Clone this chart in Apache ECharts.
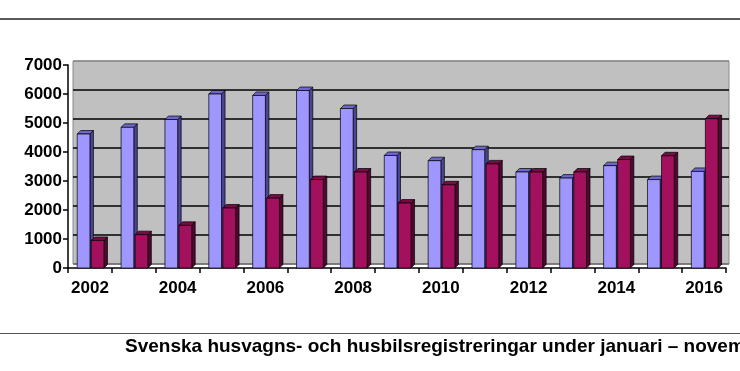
<!DOCTYPE html>
<html>
<head>
<meta charset="utf-8">
<script src="https://cdn.jsdelivr.net/npm/echarts@6/dist/echarts.min.js"></script>
<style>
html,body{margin:0;padding:0;background:#fff;}
#chart{width:740px;height:371px;}
</style>
</head>
<body>
<div id="chart"></div>
<script>
const years = ['2002','2003','2004','2005','2006','2007','2008','2009','2010','2011','2012','2013','2014','2015','2016'];
const husvagnar = [4620, 4850, 5120, 6000, 5950, 6120, 5500, 3880, 3700, 4080, 3310, 3100, 3530, 3050, 3330];
const husbilar  = [950, 1150, 1470, 2070, 2410, 3050, 3310, 2240, 2870, 3590, 3310, 3310, 3740, 3870, 5150];
const yTicks = [0, 1000, 2000, 3000, 4000, 5000, 6000, 7000];
const caption = 'Svenska husvagns- och husbilsregistreringar under januari \u2013 november';

const FONT = '"Liberation Sans", Arial, sans-serif';
const D = 3.5;

function make3D(front, side, top, shift) {
  return function (params, api) {
    const i = api.value(0), v = api.value(1);
    const base = api.coord([i, 0]);
    const tp = api.coord([i, v]);
    const band = api.size([1, 0])[0];
    const bw = band * 0.29;
    const x0 = base[0] + shift * band;
    const y0 = tp[1], y1 = base[1];
    const st = {stroke: '#000', lineWidth: 0.7};
    return {
      type: 'group',
      children: [
        {type: 'polygon', shape: {points: [[x0 + bw, y0], [x0 + bw + D, y0 - D], [x0 + bw + D, y1 - D], [x0 + bw, y1]]},
          style: Object.assign({fill: side}, st)},
        {type: 'polygon', shape: {points: [[x0, y0], [x0 + D, y0 - D], [x0 + bw + D, y0 - D], [x0 + bw, y0]]},
          style: Object.assign({fill: top}, st)},
        {type: 'rect', shape: {x: x0, y: y0, width: bw, height: y1 - y0},
          style: Object.assign({fill: front}, st)}
      ]
    };
  };
}

const chart = echarts.init(document.getElementById('chart'), null, {renderer: 'canvas'});
chart.setOption({
  animation: false,
  backgroundColor: '#fff',
  grid: [
    {left: 73, right: 11, top: 61, bottom: 107, show: true, backgroundColor: '#C0C0C0', borderColor: '#8a8a8a', borderWidth: 1, z: 0},
    {left: 68, right: 14, top: 65, bottom: 103}
  ],
  xAxis: [
    {type: 'category', gridIndex: 0, data: years, show: false},
    {type: 'category', gridIndex: 1, data: years,
      axisLine: {show: true, lineStyle: {color: '#000', width: 1.5}},
      axisTick: {show: true, interval: 0, length: 5, lineStyle: {color: '#000', width: 1.5}},
      axisLabel: {interval: 1, color: '#000', fontFamily: FONT, fontWeight: 'bold', fontSize: 17, margin: 12},
      splitLine: {show: false}}
  ],
  yAxis: [
    {type: 'value', gridIndex: 0, min: yTicks[0], max: yTicks[yTicks.length - 1], interval: 1000,
      axisLine: {show: false}, axisTick: {show: false}, axisLabel: {show: false},
      splitLine: {show: true, lineStyle: {color: ['#6a6a6a', '#000', '#000', '#000', '#000', '#000', '#000', '#8a8a8a'], width: 1.5}}},
    {type: 'value', gridIndex: 1, min: yTicks[0], max: yTicks[yTicks.length - 1], interval: 1000,
      axisLine: {show: true, lineStyle: {color: '#000', width: 1.5}},
      axisTick: {show: true, length: 5, lineStyle: {color: '#000', width: 1.5}},
      axisLabel: {color: '#000', fontFamily: FONT, fontWeight: 'bold', fontSize: 17, margin: 6, formatter: v => String(v)},
      splitLine: {show: false}}
  ],
  series: [
    {name: 'Husvagnar', type: 'custom', xAxisIndex: 1, yAxisIndex: 1, z: 3,
      renderItem: make3D('#9F96FF', '#4A4596', '#6F68CC', -0.29),
      encode: {x: 0, y: 1},
      data: husvagnar.map((v, i) => [i, v])},
    {name: 'Husbilar', type: 'custom', xAxisIndex: 1, yAxisIndex: 1, z: 4,
      renderItem: make3D('#A3105E', '#520630', '#7A0B46', 0.03),
      encode: {x: 0, y: 1},
      data: husbilar.map((v, i) => [i, v])}
  ],
  graphic: [
    {type: 'rect', left: 0, top: 18, shape: {width: 740, height: 2}, style: {fill: '#5a5a5a'}, silent: true},
    {type: 'rect', left: 0, top: 333, shape: {width: 740, height: 1}, style: {fill: '#555'}, silent: true},
    {type: 'text', x: 125, y: 347, style: {text: caption, fill: '#000', font: 'bold 19px ' + FONT, textVerticalAlign: 'middle', textAlign: 'left'}, silent: true}
  ]
});
</script>
</body>
</html>
